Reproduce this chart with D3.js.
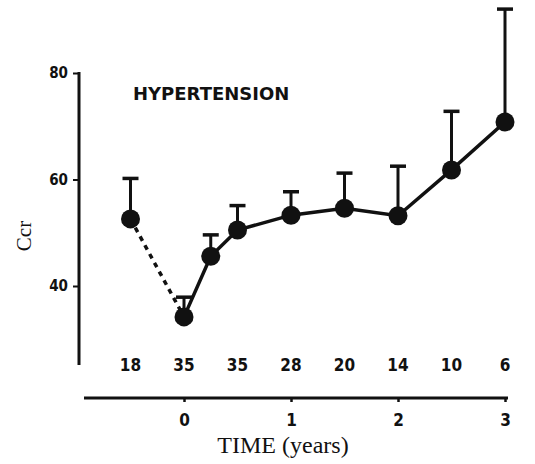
<!DOCTYPE html>
<html>
<head>
<meta charset="utf-8">
<script src="https://cdn.jsdelivr.net/npm/d3@7"></script>
<style>
  body { margin: 0; background: #fff; }
  .tick text { font-family: "DejaVu Sans Condensed", "DejaVu Sans", sans-serif; font-weight: bold; fill: #111; }
</style>
</head>
<body>
<div class="chart"></div>
<script>
// data
var times = [-0.5, 0, 0.25, 0.5, 1, 1.5, 2, 2.5, 3];
var ccr = [52.6, 34.2, 45.6, 50.5, 53.3, 54.6, 53.2, 61.8, 70.8];
var errTop = [60.2, 37.9, 49.6, 55.1, 57.7, 61.2, 62.5, 72.8, 92.0];
var nTimes = [-0.5, 0, 0.5, 1, 1.5, 2, 2.5, 3];
var nLabels = ["18", "35", "35", "28", "20", "14", "10", "6"];
var yTicks = [40, 60, 80];
var xTicks = [0, 1, 2, 3];

var width = 535, height = 464;

var svg = d3.select(".chart").append("svg")
    .attr("width", width)
    .attr("height", height);

var x = d3.scaleLinear().domain([0, 3]).range([184, 505]);
var y = d3.scaleLinear().domain([40, 80]).range([286, 73]);

// y axis
svg.append("line")
    .attr("x1", 79).attr("x2", 79)
    .attr("y1", y(80) - 1).attr("y2", 365)
    .attr("stroke", "#111").attr("stroke-width", 3);

var yAxis = svg.append("g")
    .attr("transform", "translate(79,0)")
    .call(d3.axisLeft(y).tickValues(yTicks).tickSize(6).tickPadding(5));
yAxis.select(".domain").remove();
yAxis.selectAll(".tick line").attr("stroke", "#111").attr("stroke-width", 2);
yAxis.selectAll(".tick text").style("font-size", "15px");

// x axis
svg.append("line")
    .attr("x1", 84).attr("x2", 508)
    .attr("y1", 398).attr("y2", 398)
    .attr("stroke", "#111").attr("stroke-width", 3);

var xAxis = svg.append("g")
    .attr("transform", "translate(0,398)")
    .call(d3.axisBottom(x).tickValues(xTicks).tickFormat(d3.format("d")).tickSize(4).tickPadding(12));
xAxis.select(".domain").remove();
xAxis.selectAll(".tick line").attr("stroke", "#111").attr("stroke-width", 2.5);
xAxis.selectAll(".tick text").style("font-size", "17px");

// n per time point
svg.selectAll(".nlab")
    .data(nLabels)
  .enter().append("text")
    .attr("class", "nlab")
    .attr("x", (d, i) => x(nTimes[i]))
    .attr("y", 371)
    .attr("text-anchor", "middle")
    .style("font-family", "'DejaVu Sans Condensed', 'DejaVu Sans', sans-serif")
    .style("font-weight", "bold")
    .style("font-size", "17px")
    .attr("fill", "#111")
    .text(d => d);

// error bars
var bars = svg.selectAll(".err")
    .data(times)
  .enter().append("g")
    .attr("class", "err");
bars.append("line")
    .attr("x1", d => x(d)).attr("x2", d => x(d))
    .attr("y1", (d, i) => y(ccr[i]))
    .attr("y2", (d, i) => y(errTop[i]))
    .attr("stroke", "#111").attr("stroke-width", 3);
bars.append("line")
    .attr("x1", d => x(d) - 8).attr("x2", d => x(d) + 8)
    .attr("y1", (d, i) => y(errTop[i]))
    .attr("y2", (d, i) => y(errTop[i]))
    .attr("stroke", "#111").attr("stroke-width", 3.5);

// lines
var line = d3.line()
    .x(d => x(d[0]))
    .y(d => y(d[1]));
var pts = times.map((t, i) => [t, ccr[i]]);

svg.append("path")
    .attr("d", line(pts.slice(0, 2)))
    .attr("fill", "none")
    .attr("stroke", "#111")
    .attr("stroke-width", 3.5)
    .attr("stroke-dasharray", "5,5");

svg.append("path")
    .attr("d", line(pts.slice(1)))
    .attr("fill", "none")
    .attr("stroke", "#111")
    .attr("stroke-width", 3.5);

// points
svg.selectAll(".dot")
    .data(pts)
  .enter().append("circle")
    .attr("class", "dot")
    .attr("cx", d => x(d[0]))
    .attr("cy", d => y(d[1]))
    .attr("r", 9.5)
    .attr("fill", "#111");

// labels
svg.append("text")
    .attr("x", 133).attr("y", 100)
    .style("font-family", "'DejaVu Sans', sans-serif")
    .style("font-weight", "bold")
    .style("font-size", "18px")
    .attr("fill", "#111")
    .text("HYPERTENSION");

svg.append("text")
    .attr("transform", "translate(31,236) rotate(-90)")
    .attr("text-anchor", "middle")
    .style("font-family", "'Liberation Serif', serif")
    .style("font-size", "21px")
    .attr("fill", "#111")
    .text("Ccr");

svg.append("text")
    .attr("x", 283).attr("y", 453)
    .attr("text-anchor", "middle")
    .style("font-family", "'Liberation Serif', serif")
    .style("font-size", "24px")
    .attr("fill", "#111")
    .text("TIME (years)");
</script>
</body>
</html>
